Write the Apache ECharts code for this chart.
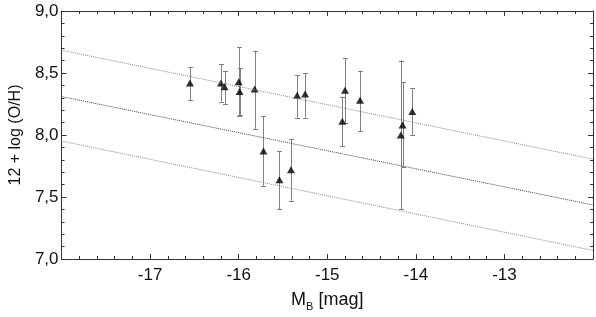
<!DOCTYPE html>
<html>
<head>
<meta charset="utf-8">
<script src="https://cdn.jsdelivr.net/npm/echarts@6/dist/echarts.min.js"></script>
<style>html,body{margin:0;padding:0;background:#fff}#c{width:596px;height:317px}</style>
</head>
<body>
<div id="c"></div>
<script>
// Data
var mb    = [-16.55, -16.20, -16.16, -16.00, -15.99, -15.82, -15.72, -15.54, -15.41, -15.34, -15.25, -14.80, -14.83, -14.63, -14.15, -14.17, -14.04];
var oh    = [8.42, 8.42, 8.39, 8.43, 8.35, 8.37, 7.87, 7.64, 7.72, 8.32, 8.33, 8.36, 8.11, 8.28, 8.08, 8.00, 8.19];
var errHi = [0.13, 0.15, 0.13, 0.28, 0.19, 0.31, 0.28, 0.23, 0.25, 0.16, 0.17, 0.26, 0.20, 0.24, 0.35, 0.60, 0.19];
var errLo = [0.14, 0.15, 0.14, 0.28, 0.19, 0.32, 0.28, 0.24, 0.25, 0.18, 0.19, 0.26, 0.20, 0.25, 0.34, 0.60, 0.19];
// Fit lines: [x, y] endpoints
var lineX    = [-18, -12];
var lineMid  = [8.31, 7.436];
var lineUp   = [8.684, 7.805];
var lineDown = [7.951, 7.069];
var xTicks = [-17, -16, -15, -14, -13];

function fmt(v){ return v.toFixed(1).replace('.', ','); }
function pairs(xs, ys){ return xs.map(function(x,i){ return [x, ys[i]]; }); }

var pts = mb.map(function(x,i){ return [x, oh[i]]; });
var bars = mb.map(function(x,i){ return [x, oh[i] - errLo[i], oh[i] + errHi[i]]; });

var font = 'Liberation Sans, Arial, sans-serif';
var axisCommon = {
  axisLine: {show: true, lineStyle: {color: '#333', width: 1}},
  axisTick: {show: true, inside: true, length: 5, lineStyle: {color: '#333'}},
  minorTick: {show: true, splitNumber: 5, length: 3, lineStyle: {color: '#333'}},
  splitLine: {show: false}
};

var chart = echarts.init(document.getElementById('c'));
chart.setOption({
  animation: false,
  backgroundColor: '#fff',
  grid: {left: 55, right: 1, top: 11, bottom: 55},
  xAxis: [
    Object.assign({
      type: 'value', min: -18, max: -12, interval: 1, position: 'bottom',
      axisLabel: {fontSize: 17, fontFamily: font, color: '#111', margin: 8,
        formatter: function(v){ return xTicks.indexOf(v) >= 0 ? String(v) : ''; }},
      name: '{m|M}{s|B}{m| [mag]}', nameLocation: 'middle', nameGap: 30,
      nameTextStyle: {rich: {
        m: {fontSize: 18, fontFamily: font, color: '#111'},
        s: {fontSize: 11, fontFamily: font, color: '#111', verticalAlign: 'bottom', padding: [12, 0, 0, 0]}
      }}
    }, axisCommon),
    Object.assign({
      type: 'value', min: -18, max: -12, interval: 1, position: 'top',
      axisLabel: {show: false}
    }, axisCommon)
  ],
  yAxis: [
    Object.assign({
      type: 'value', min: 7.0, max: 9.0, interval: 0.5, position: 'left',
      axisLabel: {fontSize: 17, fontFamily: font, color: '#111', margin: 3, formatter: fmt},
      name: '12 + log (O/H)', nameLocation: 'middle', nameGap: 34, nameRotate: 90,
      nameTextStyle: {fontSize: 16, fontFamily: font, color: '#111'}
    }, axisCommon),
    Object.assign({
      type: 'value', min: 7.0, max: 9.0, interval: 0.5, position: 'right',
      axisLabel: {show: false}
    }, axisCommon)
  ],
  series: [
    {type: 'line', data: pairs(lineX, lineUp), symbol: 'none', silent: true,
      lineStyle: {color: '#888', width: 1, type: 'dotted'}},
    {type: 'line', data: pairs(lineX, lineMid), symbol: 'none', silent: true,
      lineStyle: {color: '#444', width: 1, type: 'dotted'}},
    {type: 'line', data: pairs(lineX, lineDown), symbol: 'none', silent: true,
      lineStyle: {color: '#888', width: 1, type: 'dotted'}},
    {type: 'custom', data: bars, silent: true,
      renderItem: function(params, api){
        var x = api.value(0);
        var lo = api.coord([x, api.value(1)]);
        var hi = api.coord([x, api.value(2)]);
        var st = {stroke: '#808080', lineWidth: 1};
        var cx = Math.round(lo[0]) + 0.5;
        return {type: 'group', children: [
          {type: 'line', shape: {x1: cx, y1: lo[1], x2: cx, y2: hi[1]}, style: st},
          {type: 'line', shape: {x1: cx - 2.5, y1: Math.round(lo[1]) + 0.5, x2: cx + 2.5, y2: Math.round(lo[1]) + 0.5}, style: st},
          {type: 'line', shape: {x1: cx - 2.5, y1: Math.round(hi[1]) + 0.5, x2: cx + 2.5, y2: Math.round(hi[1]) + 0.5}, style: st}
        ]};
      }},
    {type: 'scatter', data: pts, symbol: 'triangle', symbolSize: [8, 7],
      itemStyle: {color: '#000'}}
  ]
});
</script>
</body>
</html>
